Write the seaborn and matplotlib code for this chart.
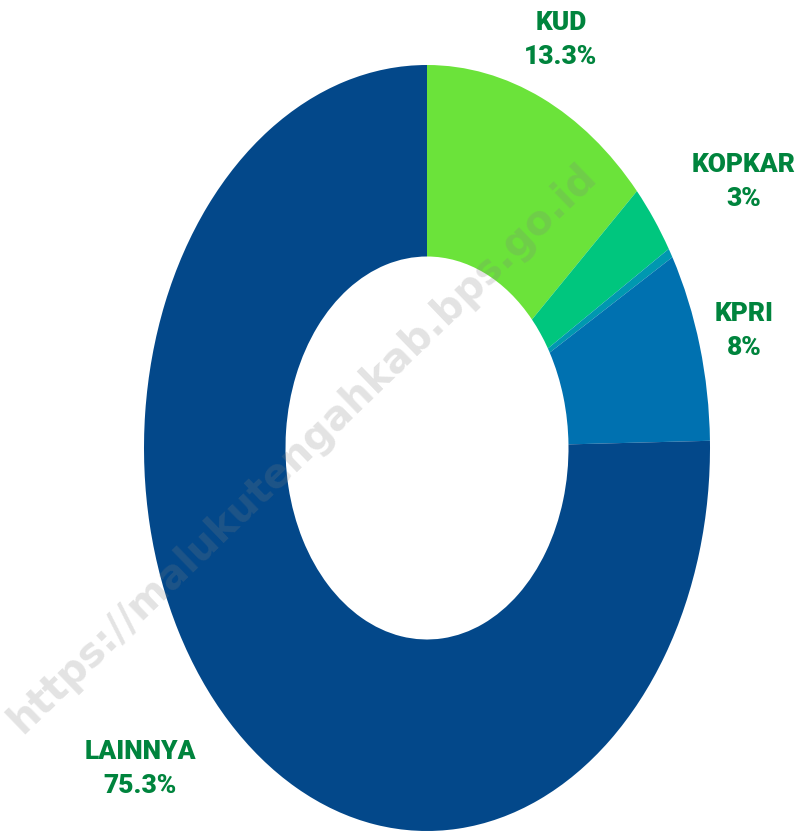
import seaborn as sns
import matplotlib.pyplot as plt

# Data
kategori = ['KUD', 'KOPKAR', 'LAINNYA_KECIL', 'KPRI', 'LAINNYA']
persen = [13.3, 3.0, 0.4, 8.0, 75.3]
label_teks = ['KUD\n13.3%', 'KOPKAR\n3%', '', 'KPRI\n8%', 'LAINNYA\n75.3%']
warna = ['#6BE33A', '#00C67E', '#0098B0', '#0071B0', '#03488A']

# Posisi label (pixel gambar, dari kiri-atas)
pos_label = [(561, 40), (744, 182), None, (744, 331), (140, 769)]

sns.set_theme(style='white')
plt.rcParams['font.family'] = ['Roboto', 'DejaVu Sans']

W, H = 802, 832
fig = plt.figure(figsize=(W / 100, H / 100), dpi=100)
ax = fig.add_axes([0, 0, 1, 1])

# pusat donut dan jari-jari (pixel)
cx, cy = 427, 448
rx, ry = 283, 383

ax.pie(persen, colors=warna, startangle=90, counterclock=False,
       radius=1, wedgeprops=dict(width=0.5, linewidth=0))
ax.set_aspect('auto')
ax.set_xlim(-cx / rx, (W - cx) / rx)
ax.set_ylim(-(H - cy) / ry, cy / ry)
ax.axis('off')

for teks, pos in zip(label_teks, pos_label):
    if pos is None:
        continue
    fig.text(pos[0] / W, 1 - pos[1] / H, teks, ha='center', va='center',
             fontsize=19, fontweight='heavy', color='#00843D', linespacing=1.55)

# watermark
fig.text(303 / W, 1 - 448 / H, 'https://malukutengahkab.bps.go.id',
         ha='center', va='center', rotation=44, fontsize=29, fontweight='bold',
         color='#808080', alpha=0.22, family='DejaVu Sans')

fig.savefig('out.png', dpi=100)
